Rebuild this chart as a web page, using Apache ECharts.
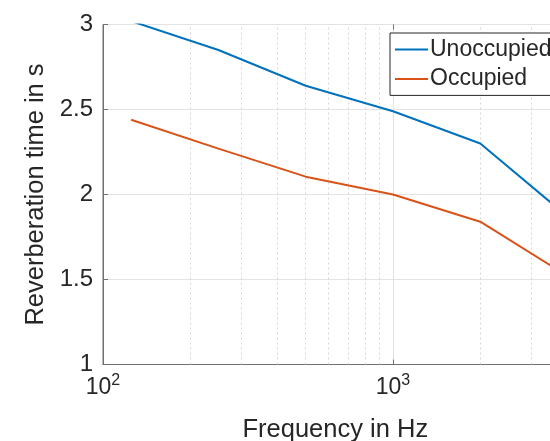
<!DOCTYPE html>
<html><head><meta charset="utf-8">
<script src="https://cdn.jsdelivr.net/npm/echarts@6/dist/echarts.min.js"></script>
<style>html,body{margin:0;padding:0;background:#fff}#c{width:550px;height:441px}</style>
</head><body><div id="c"></div>
<script>
const frequencies = [125, 250, 500, 1000, 2000, 4000];
const unoccupied = [3.02, 2.85, 2.64, 2.49, 2.30, 1.87];
const occupied = [2.44, 2.27, 2.105, 2.0, 1.84, 1.52];
const seriesNames = ['Unoccupied', 'Occupied'];
const seriesColors = ['#0072BD', '#D95319'];
const minorGridFreqs = [200, 300, 400, 500, 600, 700, 800, 900, 2000, 3000];
const xRange = [100, 4000];
const yRange = [1, 3];
const yStep = 0.5;

const FONT = 'Liberation Sans';
const chart = echarts.init(document.getElementById('c'));

function pairs(xs, ys) { return xs.map((x, i) => [x, ys[i]]); }

const xLabelFmt = v => {
  const e = Math.log10(v);
  if (Math.abs(e - Math.round(e)) > 1e-6) return '';
  return '{b|10}{s|' + Math.round(e) + '}';
};

chart.setOption({
  animation: false,
  textStyle: { fontFamily: FONT },
  grid: { left: 103, top: 24.5, height: 340, width: 464.6, outerBoundsMode: 'none', containLabel: false, show: true, borderColor: '#707070', borderWidth: 1, backgroundColor: 'transparent' },
  legend: {
    data: seriesNames,
    orient: 'vertical',
    left: 390, top: 33,
    padding: [5, 60, 5, 4],
    itemWidth: 33, itemHeight: 22, itemGap: 6.4,
    borderColor: '#262626', borderWidth: 1,
    backgroundColor: '#fff',
    textStyle: { fontSize: 23, lineHeight: 22, color: '#262626', fontFamily: FONT, padding: [0, 0, 0, -3] },
    itemStyle: { opacity: 0 }
  },
  xAxis: [{
    type: 'log', logBase: 10, min: xRange[0], max: xRange[1],
    name: 'Frequency in Hz', nameLocation: 'middle', nameGap: 52,
    nameTextStyle: { fontSize: 25.5, color: '#262626', fontFamily: FONT },
    axisLine: { lineStyle: { color: '#707070' } },
    axisTick: { inside: true, length: 5, lineStyle: { color: '#707070' } },
    axisLabel: {
      margin: 8, formatter: xLabelFmt, color: '#262626',
      rich: {
        b: { fontSize: 23, fontFamily: FONT, color: '#262626', verticalAlign: 'bottom' },
        s: { fontSize: 16, fontFamily: FONT, color: '#262626', verticalAlign: 'bottom', padding: [0, 0, 11, 0] }
      }
    },
    splitLine: { show: true, lineStyle: { color: '#e3e3e3', width: 1 } },
    minorTick: { show: false }
  }, {
    type: 'log', logBase: 10, min: xRange[0], max: xRange[1], position: 'top',
    axisLine: { show: false },
    axisTick: { inside: true, length: 5, lineStyle: { color: '#707070' } },
    axisLabel: { show: false }, splitLine: { show: false }
  }],
  yAxis: {
    type: 'value', min: yRange[0], max: yRange[1], interval: yStep,
    name: 'Reverberation time in s', nameLocation: 'middle', nameGap: 50,
    nameTextStyle: { fontSize: 25.5, color: '#262626', fontFamily: FONT },
    axisLine: { show: true, lineStyle: { color: '#707070' } },
    axisTick: { show: true, inside: true, length: 5, lineStyle: { color: '#707070' } },
    axisLabel: { fontSize: 24, color: '#262626', margin: 10, fontFamily: FONT },
    splitLine: { show: true, lineStyle: { color: '#e3e3e3', width: 1 } }
  },
  series: [
    {
      name: seriesNames[0], type: 'line', data: pairs(frequencies, unoccupied),
      symbol: 'none', clip: true, color: seriesColors[0],
      lineStyle: { width: 2, color: seriesColors[0] }, z: 3,
      markLine: {
        silent: true, symbol: ['none', 'none'], z: 1,
        label: { show: false },
        lineStyle: { type: [2, 3], color: '#d6d6d6', width: 1 },
        emphasis: { disabled: true },
        data: minorGridFreqs.map(f => ({ xAxis: f }))
      }
    },
    {
      name: seriesNames[1], type: 'line', data: pairs(frequencies, occupied),
      symbol: 'none', clip: true, color: seriesColors[1],
      lineStyle: { width: 2, color: seriesColors[1] }, z: 3
    }
  ]
});
</script></body></html>
